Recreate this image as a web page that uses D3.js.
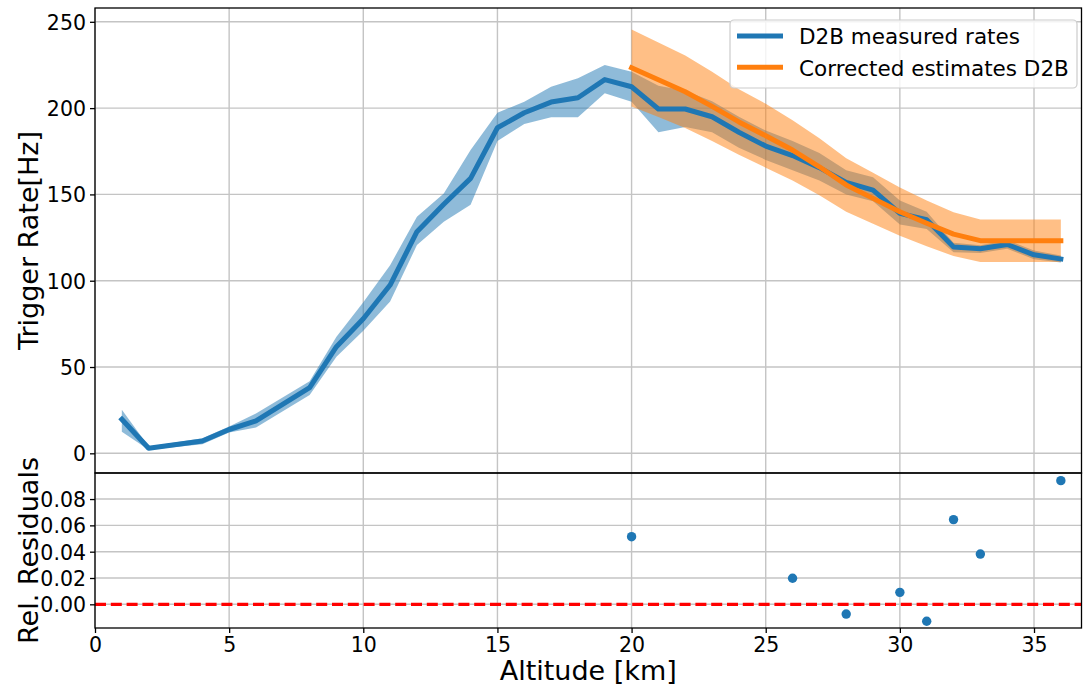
<!DOCTYPE html>
<html>
<head>
<meta charset="utf-8">
<script src="https://cdn.jsdelivr.net/npm/d3@7"></script>
<style>
  html, body { margin: 0; padding: 0; background: #fff; }
  svg { display: block; font-family: "DejaVu Sans", sans-serif; }
</style>
</head>
<body>
<svg id="chart" width="1083" height="688"></svg>
<script>
// Measured D2B trigger rates versus altitude, with uncertainty band
const altitude = [1, 2, 4, 5, 6, 8, 9, 10, 11, 12, 13, 14, 15, 16, 17, 18, 19, 20,
  21, 22, 23, 24, 25, 26, 27, 28, 29, 30, 31, 32, 33, 34, 35, 36];
const measured = [19.7, 2.9, 7.1, 13.8, 18.8, 38, 61.8, 78, 97.5, 128.4, 144.3, 159.3, 188.6, 197.3, 203.5, 206, 216.5, 212.4,
  199.5, 199.5, 195, 186, 178, 172.5, 165.5, 157, 152.5, 139, 135.3, 119.5, 118.5, 121, 115, 112.6];
const measuredLow = [12.5, 2, 5.3, 12, 15, 33.8, 56, 71, 88, 120.7, 134.2, 144, 181, 190.8, 194.7, 194.7, 208.6, 203.7,
  186, 189, 186, 177, 170, 164, 158, 150, 146, 132.5, 130, 116.5, 116, 118.5, 112.5, 110.6];
const measuredHigh = [25.3, 4, 8.7, 15.5, 23, 41.8, 67.6, 87.5, 109, 137, 150.6, 175.7, 197.3, 203.7, 212.4, 217.3, 225, 221,
  213, 210, 204, 195, 187, 181, 174, 164, 160, 146.5, 140, 122, 120.5, 123.5, 117.5, 114.6];

// Corrected estimates from 20 km upward, with their band
const corrAltitude = [20, 21, 22, 23, 24, 25, 26, 27, 28, 29, 30, 31, 32, 33, 34, 35, 36];
const corrected = [223.4, 216.4, 209.5, 201, 192, 184, 175.7, 166, 155.5, 147.7, 140, 133.3, 127, 123.2, 123.2, 123.2, 123.2];
const correctedLow = [201, 194.8, 188.5, 181, 173, 165.5, 158, 149.5, 140, 133, 126, 120, 114.3, 110.9, 110.9, 110.9, 110.9];
const correctedHigh = [245.5, 238, 230.5, 221, 211, 202.5, 193, 182.5, 171, 162.5, 154, 146.5, 139.7, 135.5, 135.5, 135.5, 135.5];

// Relative residuals between corrected and measured rates
const residAltitude = [20, 26, 28, 30, 31, 32, 33, 36];
const residuals = [0.0514, 0.0198, -0.0074, 0.0091, -0.0129, 0.0644, 0.0382, 0.094];

// Tick values
const xTicks = [0, 5, 10, 15, 20, 25, 30, 35];
const rateTicks = [0, 50, 100, 150, 200, 250];
const residTicks = [0, 0.02, 0.04, 0.06, 0.08];

const blue = "#1f77b4", orange = "#ff7f0e";
const svg = d3.select("#chart");

const L = 95, R = 1081.5, T1 = 8, B1 = 473, T2 = 473, B2 = 628;
const x = d3.scaleLinear().domain([0, 36.77]).range([L, R]);
const yRate = d3.scaleLinear().domain([-11.4, 258]).range([B1, T1]);
const yRes = d3.scaleLinear().domain([-0.018, 0.0998]).range([B2, T2]);

const gridColor = "#c4c4c4";
const tickFont = "20.5px";
const labelFont = "27px";

// ---------- gridlines ----------
function grid(g, scaleY, yTicks, y0, y1) {
  g.selectAll("line.vx").data(xTicks).join("line")
    .attr("class", "vx")
    .attr("x1", d => x(d)).attr("x2", d => x(d))
    .attr("y1", y0).attr("y2", y1)
    .attr("stroke", gridColor).attr("stroke-width", 1.4);
  g.selectAll("line.hy").data(yTicks).join("line")
    .attr("class", "hy")
    .attr("x1", L).attr("x2", R)
    .attr("y1", d => scaleY(d)).attr("y2", d => scaleY(d))
    .attr("stroke", gridColor).attr("stroke-width", 1.4);
}
grid(svg.append("g"), yRate, rateTicks, T1, B1);
grid(svg.append("g"), yRes, residTicks, T2, B2);

// ---------- upper panel ----------
svg.append("clipPath").attr("id", "clipUpper")
  .append("rect").attr("x", L).attr("y", T1).attr("width", R - L).attr("height", B1 - T1);
const upper = svg.append("g").attr("clip-path", "url(#clipUpper)");

const measuredRows = altitude.map((a, i) => ({ a, v: measured[i], lo: measuredLow[i], hi: measuredHigh[i] }));
const correctedRows = corrAltitude.map((a, i) => ({ a, v: corrected[i], lo: correctedLow[i], hi: correctedHigh[i] }));

const band = d3.area().x(d => x(d.a)).y0(d => yRate(d.lo)).y1(d => yRate(d.hi));
const line = d3.line().x(d => x(d.a)).y(d => yRate(d.v));

upper.append("path").datum(measuredRows).attr("d", band)
  .attr("fill", blue).attr("fill-opacity", 0.5);
upper.append("path").datum(correctedRows).attr("d", band)
  .attr("fill", orange).attr("fill-opacity", 0.5);
upper.append("path").datum(measuredRows).attr("d", line)
  .attr("fill", "none").attr("stroke", blue).attr("stroke-width", 5)
  .attr("stroke-linejoin", "round").attr("stroke-linecap", "square");
upper.append("path").datum(correctedRows).attr("d", line)
  .attr("fill", "none").attr("stroke", orange).attr("stroke-width", 5)
  .attr("stroke-linejoin", "round").attr("stroke-linecap", "square");

// ---------- lower panel ----------
svg.append("clipPath").attr("id", "clipLower")
  .append("rect").attr("x", L).attr("y", T2).attr("width", R - L).attr("height", B2 - T2);
const lower = svg.append("g").attr("clip-path", "url(#clipLower)");

lower.append("line")
  .attr("x1", L).attr("x2", R).attr("y1", yRes(0)).attr("y2", yRes(0))
  .attr("stroke", "#ff0000").attr("stroke-width", 3.2).attr("stroke-dasharray", "11,4.8");

lower.selectAll("circle").data(residAltitude.map((a, i) => ({ a, v: residuals[i] }))).join("circle")
  .attr("cx", d => x(d.a)).attr("cy", d => yRes(d.v)).attr("r", 4.7)
  .attr("fill", blue);

// ---------- axes ----------
function styleAxis(g) {
  g.select(".domain").remove();
  g.selectAll(".tick line").attr("stroke", "#000").attr("stroke-width", 1.3);
  g.selectAll(".tick text").attr("fill", "#000").style("font-size", tickFont)
    .style("font-family", "DejaVu Sans");
}

svg.append("g").attr("transform", `translate(${L},0)`)
  .call(d3.axisLeft(yRate).tickValues(rateTicks).tickSize(5).tickPadding(4).tickFormat(d3.format("d")))
  .call(styleAxis)
  .selectAll(".tick text").attr("dy", "0.36em");

svg.append("g").attr("transform", `translate(${L},0)`)
  .call(d3.axisLeft(yRes).tickValues(residTicks).tickSize(5).tickPadding(4).tickFormat(d3.format(".2f")))
  .call(styleAxis)
  .selectAll(".tick text").attr("dy", "0.36em");

svg.append("g").attr("transform", `translate(0,${B2})`)
  .call(d3.axisBottom(x).tickValues(xTicks).tickSize(5).tickPadding(4).tickFormat(d3.format("d")))
  .call(styleAxis);

// ---------- frames ----------
function frame(y0, y1) {
  svg.append("rect").attr("x", L).attr("y", y0).attr("width", R - L).attr("height", y1 - y0)
    .attr("fill", "none").attr("stroke", "#000").attr("stroke-width", 1.3);
}
frame(T1, B1);
frame(T2, B2);

// ---------- axis labels ----------
svg.append("text")
  .attr("transform", `translate(38,${(T1 + B1) / 2}) rotate(-90)`)
  .attr("text-anchor", "middle").style("font-size", labelFont)
  .text("Trigger Rate[Hz]");
svg.append("text")
  .attr("transform", `translate(38,${(T2 + B2) / 2}) rotate(-90)`)
  .attr("text-anchor", "middle").style("font-size", labelFont)
  .text("Rel. Residuals");
svg.append("text")
  .attr("x", (L + R) / 2).attr("y", 680)
  .attr("text-anchor", "middle").style("font-size", labelFont)
  .text("Altitude [km]");

// ---------- legend ----------
const legendItems = [
  { label: "D2B measured rates", color: blue },
  { label: "Corrected estimates D2B", color: orange }
];
const lg = svg.append("g");
lg.append("rect").attr("x", 730).attr("y", 20).attr("width", 347).attr("height", 68)
  .attr("rx", 4).attr("fill", "#fff").attr("fill-opacity", 0.8)
  .attr("stroke", "#cccccc").attr("stroke-width", 1.2);
legendItems.forEach((it, i) => {
  const yy = 36 + i * 31.3;
  lg.append("line").attr("x1", 737).attr("x2", 783).attr("y1", yy).attr("y2", yy)
    .attr("stroke", it.color).attr("stroke-width", 5);
  lg.append("text").attr("x", 799).attr("y", yy + 8.3)
    .style("font-size", "21.5px").attr("fill", "#000").text(it.label);
});
</script>
</body>
</html>
